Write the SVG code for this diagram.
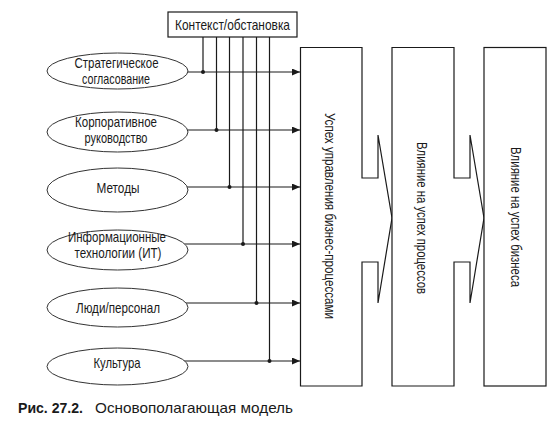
<svg xmlns="http://www.w3.org/2000/svg" width="558" height="431" viewBox="0 0 558 431">
<style>
text{font-family:"Liberation Sans Narrow","Liberation Sans",Arial,sans-serif;fill:#1a1a1a;font-size:14.5px}
.c{text-anchor:middle}
.ell{fill:#fff;stroke:#333;stroke-width:1}
.box{fill:#fff;stroke:#1a1a1a;stroke-width:1.2}
.ln{stroke:#1a1a1a;stroke-width:1.2;fill:none}
.dot{fill:#1a1a1a}
.cap{font-size:14.5px}
</style>
<defs>
<marker id="ah" markerWidth="9" markerHeight="8" refX="8" refY="3.5" orient="auto" markerUnits="userSpaceOnUse">
<path d="M0,0 L8,3.5 L0,7 Z" fill="#1a1a1a"/>
</marker>
</defs>
<rect width="558" height="431" fill="#fff"/>
<g id="connectors">
<line class="ln" x1="180" y1="72" x2="300" y2="72" marker-end="url(#ah)"/>
<line class="ln" x1="180" y1="130" x2="300" y2="130" marker-end="url(#ah)"/>
<line class="ln" x1="180" y1="187" x2="300" y2="187" marker-end="url(#ah)"/>
<line class="ln" x1="180" y1="244" x2="300" y2="244" marker-end="url(#ah)"/>
<line class="ln" x1="180" y1="303" x2="300" y2="303" marker-end="url(#ah)"/>
<line class="ln" x1="180" y1="361" x2="300" y2="361" marker-end="url(#ah)"/>
<line class="ln" x1="203" y1="37" x2="203" y2="72"/>
<line class="ln" x1="216.5" y1="37" x2="216.5" y2="130"/>
<line class="ln" x1="229.5" y1="37" x2="229.5" y2="187"/>
<line class="ln" x1="243" y1="37" x2="243" y2="244"/>
<line class="ln" x1="256.5" y1="37" x2="256.5" y2="303"/>
<line class="ln" x1="269.5" y1="37" x2="269.5" y2="361"/>
<circle class="dot" cx="203" cy="72" r="2"/>
<circle class="dot" cx="216.5" cy="130" r="2"/>
<circle class="dot" cx="229.5" cy="187" r="2"/>
<circle class="dot" cx="243" cy="244" r="2"/>
<circle class="dot" cx="256.5" cy="303" r="2"/>
<circle class="dot" cx="269.5" cy="361" r="2"/>
</g>
<g id="context">
<rect class="box" x="168" y="12" width="129" height="25"/>
<text class="c" x="232.5" y="30" font-size="14.5" textLength="115" lengthAdjust="spacingAndGlyphs">Контекст/обстановка</text>
</g>
<g id="n1">
<ellipse class="ell" cx="117.5" cy="71" rx="70.5" ry="18"/>
<text class="c" x="116.5" y="68" textLength="84" lengthAdjust="spacingAndGlyphs">Стратегическое</text>
<text class="c" x="116" y="84" textLength="68" lengthAdjust="spacingAndGlyphs">согласование</text>
</g>
<g id="n2">
<ellipse class="ell" cx="117.5" cy="132" rx="70.5" ry="20"/>
<text class="c" x="116" y="127" textLength="82" lengthAdjust="spacingAndGlyphs">Корпоративное</text>
<text class="c" x="116" y="143" textLength="63" lengthAdjust="spacingAndGlyphs">руководство</text>
</g>
<g id="n3">
<ellipse class="ell" cx="117.5" cy="190" rx="70.5" ry="22"/>
<text class="c" x="118" y="193" textLength="43" lengthAdjust="spacingAndGlyphs">Методы</text>
</g>
<g id="n4">
<ellipse class="ell" cx="117.5" cy="250" rx="70.5" ry="20"/>
<text class="c" x="117" y="242" textLength="98" lengthAdjust="spacingAndGlyphs">Информационные</text>
<text class="c" x="118" y="258" textLength="87" lengthAdjust="spacingAndGlyphs">технологии (ИТ)</text>
</g>
<g id="n5">
<ellipse class="ell" cx="117.5" cy="307.5" rx="70.5" ry="19.5"/>
<text class="c" x="118" y="313" textLength="84" lengthAdjust="spacingAndGlyphs">Люди/персонал</text>
</g>
<g id="n6">
<ellipse class="ell" cx="117.5" cy="366.5" rx="70.5" ry="18.5"/>
<text class="c" x="117" y="368" textLength="47" lengthAdjust="spacingAndGlyphs">Культура</text>
</g>
<g id="b1">
<path class="box" d="M300.5,47.5 H362 V178 H378 V135 L392,218 L378,303 V262 H362 V386 H300.5 Z"/>
<text class="c" transform="translate(330,216) rotate(90)" y="5" font-size="15" textLength="206" lengthAdjust="spacingAndGlyphs">Успех управления бизнес-процессами</text>
</g>
<g id="b2">
<path class="box" d="M392,47.5 H454 V178 H470 V135 L484,218 L470,303 V262 H454 V386 H392 Z"/>
<text class="c" transform="translate(422,218) rotate(90)" y="5" font-size="15" textLength="152" lengthAdjust="spacingAndGlyphs">Влияние на успех процессов</text>
</g>
<g id="b3">
<rect class="box" x="484" y="47.5" width="62" height="338.5"/>
<text class="c" transform="translate(515.5,217) rotate(90)" y="5" font-size="15" textLength="140" lengthAdjust="spacingAndGlyphs">Влияние на успех бизнеса</text>
</g>
<g id="caption">
<text x="18" y="413" class="cap" font-weight="bold" textLength="65" lengthAdjust="spacingAndGlyphs">Рис. 27.2.</text>
<text x="95" y="413" class="cap" textLength="198" lengthAdjust="spacingAndGlyphs">Основополагающая модель</text>
</g>
</svg>
